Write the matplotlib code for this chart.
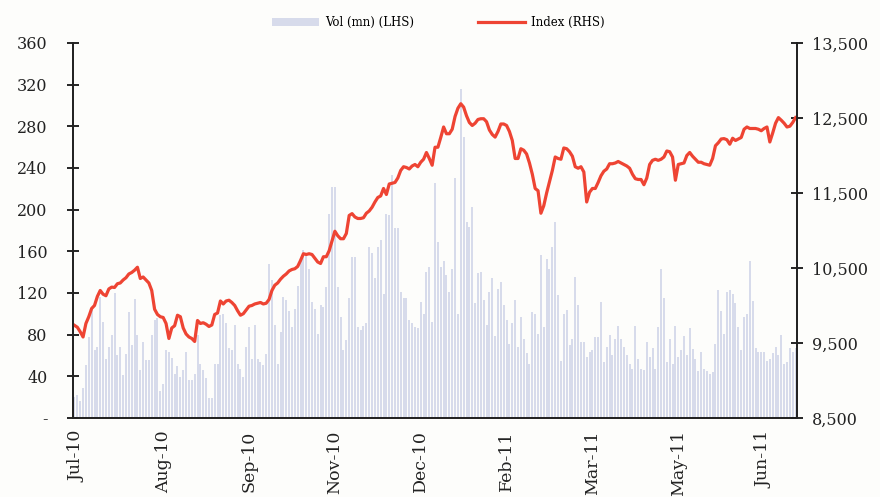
import matplotlib.pyplot as plt
import numpy as np
from matplotlib.ticker import FuncFormatter

# daily traded volume (mn)
vol = [20, 22, 16, 29, 51, 78, 104, 65, 68, 116, 92, 57, 68, 80, 120, 60, 68, 41, 61, 102,
       70, 114, 80, 46, 73, 56, 56, 80, 94, 96, 26, 33, 65, 63, 58, 42, 50, 39, 46, 63,
       36, 36, 42, 80,
       52, 46, 38, 19, 19, 52, 52, 99, 100, 91, 67, 65, 89, 52, 47, 39, 68, 87, 57, 89,
       57, 54, 51, 61, 148, 132, 89, 52, 83, 116, 113, 103, 87, 105, 127, 151, 161, 158,
       143, 111, 105, 81, 108, 107, 126, 196, 222, 222, 126, 97, 65, 75, 115, 155, 155, 87,
       84, 88, 91, 164, 158, 134, 164, 171, 119, 196, 195, 233, 182, 182, 121, 115, 115, 94,
       91, 87, 86, 111, 100, 140, 145, 92, 226,
       169, 145, 151, 137, 121, 143, 230, 100, 316, 270, 188, 183, 203, 110, 139, 140, 113, 89,
       121, 134, 79, 124, 131, 108, 94, 71, 91, 113, 68, 97, 76, 62, 52, 102, 100, 81, 156,
       87, 153, 143, 164, 188,
       118, 55, 100, 104, 70, 76, 135, 108, 73, 73, 59, 63, 65, 78, 78, 111, 54, 68, 80, 60,
       76, 88, 76, 68, 60, 52, 47, 88, 57, 47, 46, 73, 59, 67, 47, 87, 143, 115, 54, 76, 52,
       88, 59, 65, 79, 60, 86, 66, 57, 45, 63, 47, 45, 42, 44, 71, 123, 103, 81, 121, 123,
       119, 110, 87, 65, 97, 100, 151, 112, 67, 63, 63, 63, 55, 57, 62, 68, 60, 80, 52, 54,
       67, 63, 67]

# index level
index = [9735, 9710, 9650, 9580, 9760, 9850, 9960, 10000, 10120, 10200, 10150, 10130, 10220,
         10245, 10240, 10290, 10300, 10340, 10370, 10420, 10440, 10470, 10510, 10360, 10380,
         10340, 10300, 10200, 9950, 9880, 9850, 9840, 9760, 9560, 9700, 9730, 9870, 9850,
         9700, 9620, 9580, 9560, 9520, 9800, 9760, 9770, 9750, 9720, 9740, 9880, 9900, 10060,
         10020, 10060, 10070, 10040, 10000, 9930, 9870, 9890, 9940, 9990, 10000, 10020, 10030,
         10040, 10020, 10030, 10080, 10200, 10270, 10300, 10350, 10390, 10420, 10460, 10480,
         10490, 10520, 10600, 10690, 10680, 10690, 10680, 10630, 10580, 10560, 10650, 10650,
         10730, 10860, 10990, 10930, 10890, 10890, 10960, 11200, 11225, 11180, 11160, 11160,
         11170, 11230, 11260, 11310, 11380, 11440, 11460, 11560, 11480, 11620, 11630, 11640,
         11700, 11800, 11850, 11840, 11820, 11860, 11880, 11850, 11910, 11950, 12040, 11960,
         11870, 12110, 12110, 12240, 12380, 12290, 12290, 12350, 12520, 12630, 12690, 12645,
         12530, 12440, 12400, 12430, 12480, 12490, 12490, 12450, 12340, 12280, 12245, 12320,
         12420, 12420, 12400, 12320, 12200, 11960, 11960, 12090, 12070, 12020, 11900, 11750,
         11560, 11530, 11230, 11330, 11500, 11650, 11800, 11980, 11960, 11950, 12100, 12090,
         12050, 11990, 11850, 11830, 11850, 11780, 11380, 11510, 11560, 11560, 11640, 11730,
         11790, 11820, 11890, 11890, 11900, 11920, 11900, 11880, 11860, 11830, 11750, 11690,
         11680, 11680, 11610, 11700, 11880, 11935, 11950, 11935, 11950, 11980, 12060, 12050,
         11980, 11670, 11880, 11890, 11900, 12000, 12040, 11990, 11950, 11910, 11910, 11890,
         11880, 11870, 11960, 12130, 12170, 12220, 12225, 12210, 12150, 12230, 12200, 12220,
         12240, 12350, 12380, 12360, 12360, 12360, 12350, 12330, 12360, 12380, 12180, 12300,
         12430, 12505, 12470, 12430, 12380, 12390, 12440, 12505]

month_labels = ['Jul-10', 'Aug-10', 'Sep-10', 'Nov-10', 'Dec-10',
                'Feb-11', 'Mar-11', 'May-11', 'Jun-11']
label_step = 30

plt.rcParams['font.family'] = ['DejaVu Serif']

n = min(len(vol), len(index))
x = np.arange(n)

fig = plt.figure(figsize=(8.8, 4.97), dpi=100, facecolor='#fdfdfb')
ax = fig.add_axes([0.083, 0.159, 0.8227, 0.7545])
ax.set_facecolor('#fdfdfb')
ax2 = ax.twinx()

bars = ax.bar(x, vol[:n], width=0.7, color='#d7dbeb', label='Vol (mn) (LHS)')
line, = ax2.plot(x, index[:n], color='#ee4433', lw=2.3, label='Index (RHS)')

ax.set_xlim(-0.5, n - 0.5)
ax.set_ylim(0, 360)
ax.set_yticks(np.arange(0, 361, 40))
ax.yaxis.set_major_formatter(FuncFormatter(lambda v, p: '-' if v == 0 else f'{v:.0f}'))
ax2.set_ylim(8500, 13500)
ax2.set_yticks(np.arange(8500, 13501, 1000))
ax2.yaxis.set_major_formatter(FuncFormatter(lambda v, p: f'{v:,.0f}'))

ticks = [1 + label_step * k for k in range(len(month_labels))]
ax.set_xticks(ticks)
ax.set_xticklabels(month_labels, rotation=90)
ax.tick_params(axis='x', length=0, pad=9, labelsize=12.5, colors='#222222')
ax.tick_params(axis='y', direction='inout', length=9, width=1.2, pad=14, labelsize=11.5,
               labelcolor='#222222')
ax2.tick_params(axis='y', direction='inout', length=9, width=1.2, pad=6, labelsize=11.5,
                labelcolor='#222222')

for a in (ax, ax2):
    a.spines['top'].set_visible(False)
    for s in ('left', 'right', 'bottom'):
        a.spines[s].set_linewidth(1.3)
        a.spines[s].set_color('#222222')

fig.legend([bars, line], ['Vol (mn) (LHS)', 'Index (RHS)'], loc='center',
           bbox_to_anchor=(0.498, 0.954), ncol=2, frameon=False, fontsize=8.5,
           handlelength=4.0, columnspacing=5.4, handletextpad=0.5)

fig.savefig('out.png', dpi=100, facecolor=fig.get_facecolor())
